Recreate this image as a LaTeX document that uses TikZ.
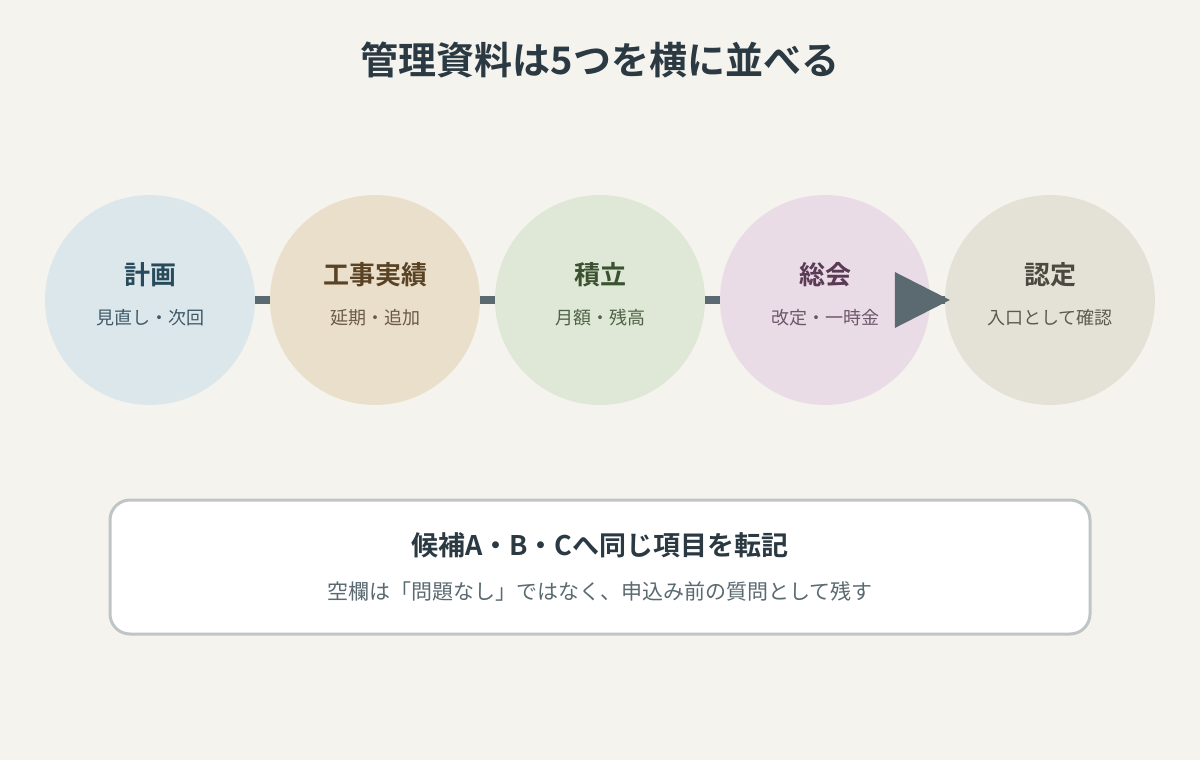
\documentclass[tikz,border=0pt]{standalone}
\usepackage{fontspec}
\setmainfont{Noto Sans CJK JP}
\newfontfamily\jpb{Noto Sans CJK JP Bold}
\usetikzlibrary{arrows.meta}
\definecolor{bg}{HTML}{F5F3EE}
\definecolor{ink}{HTML}{2B3A42}
\definecolor{conn}{HTML}{5A6A70}
\definecolor{fA}{HTML}{DCE7EC}\definecolor{tA}{HTML}{284B5C}\definecolor{sA}{HTML}{3E5866}
\definecolor{fB}{HTML}{EADFCB}\definecolor{tB}{HTML}{5A4325}\definecolor{sB}{HTML}{6B5A45}
\definecolor{fC}{HTML}{DFE8D6}\definecolor{tC}{HTML}{3A5230}\definecolor{sC}{HTML}{4E6244}
\definecolor{fD}{HTML}{E9DCE6}\definecolor{tD}{HTML}{5A3A55}\definecolor{sD}{HTML}{6E566A}
\definecolor{fE}{HTML}{E4E2D7}\definecolor{tE}{HTML}{4A4A40}\definecolor{sE}{HTML}{5A5A50}
\definecolor{boxline}{HTML}{BFC5C6}
\tikzset{
  stage/.style={circle, minimum size=210, inner sep=0, draw=none},
  stitle/.style={font=\jpb\fontsize{26}{30}\selectfont, anchor=center},
  ssub/.style={font=\fontsize{18}{22}\selectfont, anchor=center},
  link/.style={draw=conn, line width=8},
}
\begin{document}
\begin{tikzpicture}[x=1pt,y=-1pt]
\fill[bg] (0,0) rectangle (1200,760);
\useasboundingbox (0,0) rectangle (1200,760);
\node[font=\jpb\fontsize{38}{42}\selectfont, text=ink] (title) at (600,60) {管理資料は5つを横に並べる};
% circles
\node[stage, fill=fA] (c1) at (150,300) {};
\node[stage, fill=fB] (c2) at (375,300) {};
\node[stage, fill=fC] (c3) at (600,300) {};
\node[stage, fill=fD] (c4) at (825,300) {};
\node[stage, fill=fE] (c5) at (1050,300) {};
% connectors
\draw[link] (c1.east) -- (c2.west);
\draw[link] (c2.east) -- (c3.west);
\draw[link] (c3.east) -- (c4.west);
\draw[link] (c4.east) -- (c5.west);
\fill[conn] ([xshift=5]c5.west) -- ++(-55,-28) -- ++(0,56) -- cycle;
% texts
\node[stitle, text=tA] (t1) at (150,275) {計画};
\node[ssub, text=sA] (s1) at (150,318) {見直し・次回};
\node[stitle, text=tB] (t2) at (375,275) {工事実績};
\node[ssub, text=sB] (s2) at (375,318) {延期・追加};
\node[stitle, text=tC] (t3) at (600,275) {積立};
\node[ssub, text=sC] (s3) at (600,318) {月額・残高};
\node[stitle, text=tD] (t4) at (825,275) {総会};
\node[ssub, text=sD] (s4) at (825,318) {改定・一時金};
\node[stitle, text=tE] (t5) at (1050,275) {認定};
\node[ssub, text=sE] (s5) at (1050,318) {入口として確認};
% bottom box
\draw[draw=boxline, line width=3, fill=white, rounded corners=20] (110,500) rectangle (1090,634);
\node[font=\jpb\fontsize{27}{31}\selectfont, text=ink] (bt) at (600,545) {候補A・B・Cへ同じ項目を転記};
\node[font=\fontsize{21}{25}\selectfont, text=conn] (bs) at (600,591) {空欄は「問題なし」ではなく、申込み前の質問として残す};
\end{tikzpicture}
\end{document}
